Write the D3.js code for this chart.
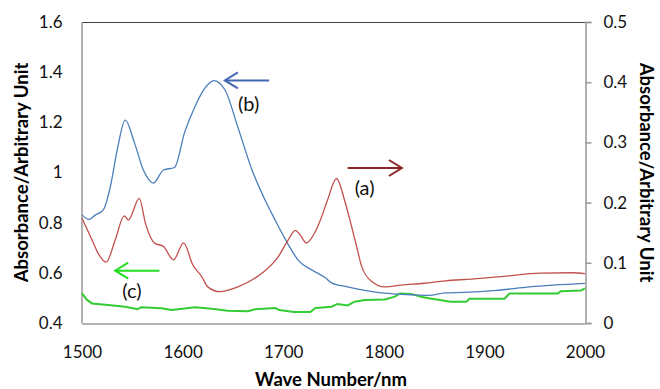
<!DOCTYPE html>
<html>
<head>
<meta charset="utf-8">
<script src="https://cdn.jsdelivr.net/npm/d3@7"></script>
<style>
  html, body { margin: 0; padding: 0; background: #fff; }
  svg { display: block; font-family: Lato, "Open Sans", sans-serif; }
</style>
</head>
<body>
<svg id="chart" width="660" height="389"></svg>
<script>
// Spectrum (a): right axis
const waveA = [1500,1510,1516,1524,1533,1542,1546,1557,1563,1572,1581,1591,1601,1610,1619,1625,1637,1655,1679,1695,1705,1712,1717,1723,1732,1737,1744,1753,1761,1768,1773,1778,1788,1801,1817,1840,1861,1887,1922,1955,1988,2000];
const absA  = [0.174,0.138,0.116,0.101,0.138,0.178,0.171,0.207,0.166,0.133,0.127,0.105,0.133,0.097,0.077,0.060,0.052,0.060,0.083,0.110,0.138,0.154,0.146,0.133,0.152,0.171,0.204,0.240,0.204,0.160,0.127,0.094,0.069,0.060,0.063,0.066,0.070,0.073,0.078,0.083,0.0835,0.082];

// Spectrum (b): left axis
const waveB = [1500,1507,1513,1521,1528,1535,1543,1552,1561,1571,1581,1592,1602,1612,1622,1631,1642,1655,1669,1682,1692,1704,1715,1729,1742,1748,1764,1781,1798,1814,1831,1845,1861,1880,1912,1945,2000];
const absB  = [0.831,0.813,0.830,0.850,0.940,1.090,1.209,1.120,1.010,0.958,1.010,1.020,1.160,1.260,1.335,1.366,1.330,1.180,1.010,0.890,0.810,0.720,0.650,0.610,0.580,0.560,0.544,0.530,0.520,0.515,0.512,0.510,0.520,0.522,0.530,0.544,0.558];

// Spectrum (c): left axis
const waveC = [1500,1505,1510,1526,1543,1555,1559,1579,1589,1602,1612,1629,1645,1665,1672,1692,1696,1711,1727,1732,1742,1748,1754,1764,1771,1781,1801,1811,1816,1827,1837,1846,1856,1866,1882,1885,1920,1925,1973,1976,1996,2000];
const absC  = [0.518,0.492,0.478,0.472,0.465,0.455,0.463,0.459,0.452,0.458,0.463,0.457,0.449,0.447,0.455,0.460,0.452,0.444,0.444,0.460,0.463,0.465,0.476,0.470,0.485,0.492,0.494,0.505,0.518,0.516,0.505,0.498,0.492,0.485,0.485,0.497,0.497,0.518,0.518,0.527,0.530,0.538];

const xTicks = [1500,1600,1700,1800,1900,2000];
const leftTicks = [0.4,0.6,0.8,1.0,1.2,1.4,1.6];
const rightTicks = [0,0.1,0.2,0.3,0.4,0.5];

const svg = d3.select("#chart");
const m = {left: 82, right: 585, top: 22, bottom: 323};

const x = d3.scaleLinear().domain([1500, 2000]).range([m.left, m.right]);
const yL = d3.scaleLinear().domain([0.4, 1.6]).range([m.bottom, m.top]);
const yR = d3.scaleLinear().domain([0, 0.5]).range([m.bottom, m.top]);

const fmtL = d => d === 1 ? "1" : d3.format(".1f")(d);
const fmtR = d => d === 0 ? "0" : d3.format(".1f")(d);

// top frame line
svg.append("line")
  .attr("x1", m.left).attr("x2", m.right)
  .attr("y1", m.top + 0.5).attr("y2", m.top + 0.5)
  .attr("stroke", "#444").attr("stroke-width", 1);

// axes
const gx = svg.append("g").attr("transform", `translate(0,${m.bottom + 0.5})`)
  .call(d3.axisBottom(x).tickValues(xTicks).tickSize(0).tickPadding(22).tickFormat(d3.format("d")));
const gl = svg.append("g").attr("transform", `translate(${m.left - 0.5},0)`)
  .call(d3.axisLeft(yL).tickValues(leftTicks).tickSize(0).tickPadding(19).tickFormat(fmtL));
const gr = svg.append("g").attr("transform", `translate(${m.right + 0.5},0)`)
  .call(d3.axisRight(yR).tickValues(rightTicks).tickSize(6).tickPadding(12).tickFormat(fmtR));

[gx, gl, gr].forEach(g => {
  g.select(".domain").attr("stroke", "#999").attr("stroke-width", 1.5);
  g.selectAll(".tick line").attr("stroke", "#999").attr("stroke-width", 1.5);
  g.selectAll(".tick text").attr("fill", "#111").style("font-size", "17px")
    .style("font-family", "Lato, 'Open Sans', sans-serif");
});

// spectra
const line = (xs, ys, yScale, curve) => d3.line()
  .x((d, i) => x(xs[i])).y((d, i) => yScale(ys[i])).curve(curve)(xs);

svg.append("path").attr("d", line(waveC, absC, yL, d3.curveLinear))
  .attr("fill", "none").attr("stroke", "#33cc33").attr("stroke-width", 2);
svg.append("path").attr("d", line(waveB, absB, yL, d3.curveMonotoneX))
  .attr("fill", "none").attr("stroke", "#4a7ebb").attr("stroke-width", 1.3);
svg.append("path").attr("d", line(waveA, absA, yR, d3.curveMonotoneX))
  .attr("fill", "none").attr("stroke", "#c0504d").attr("stroke-width", 1.3);

// arrows indicating which axis each spectrum uses
function arrow(x1, x2, y, color) {
  const dir = Math.sign(x2 - x1);
  svg.append("line").attr("x1", x1).attr("x2", x2).attr("y1", y).attr("y2", y)
    .attr("stroke", color).attr("stroke-width", 2);
  svg.append("path")
    .attr("d", `M${x2 - dir * 13},${y - 8} L${x2},${y} L${x2 - dir * 13},${y + 8}`)
    .attr("fill", "none").attr("stroke", color).attr("stroke-width", 2);
}
arrow(x(1686), x(1642), yL(1.367), "#4466b0");
arrow(x(1764), x(1818), yR(0.2575), "#8b2525");
arrow(x(1577), x(1533), yL(0.6085), "#22dd22");

// spectrum labels
const lbl = [["(b)", 1655, yL(1.245)], ["(a)", 1771, yR(0.2126)], ["(c)", 1540, yL(0.4997)]];
svg.selectAll("text.lbl").data(lbl).join("text").attr("class", "lbl")
  .attr("x", d => x(d[1])).attr("y", d => d[2])
  .attr("fill", "#111").style("font-size", "20px").text(d => d[0]);

// axis titles
svg.append("text").attr("transform", `translate(28,${(m.top + m.bottom) / 2}) rotate(-90)`)
  .attr("text-anchor", "middle").style("font-size", "18.5px").style("font-weight", "bold")
  .text("Absorbance/Arbitrary Unit");
svg.append("text").attr("transform", `translate(640,${(m.top + m.bottom) / 2}) rotate(90)`)
  .attr("text-anchor", "middle").style("font-size", "18.5px").style("font-weight", "bold")
  .text("Absorbance/Arbitrary Unit");
svg.append("text").attr("x", 331).attr("y", 386)
  .attr("text-anchor", "middle").style("font-size", "18.5px").style("font-weight", "bold")
  .text("Wave Number/nm");
</script>
</body>
</html>
